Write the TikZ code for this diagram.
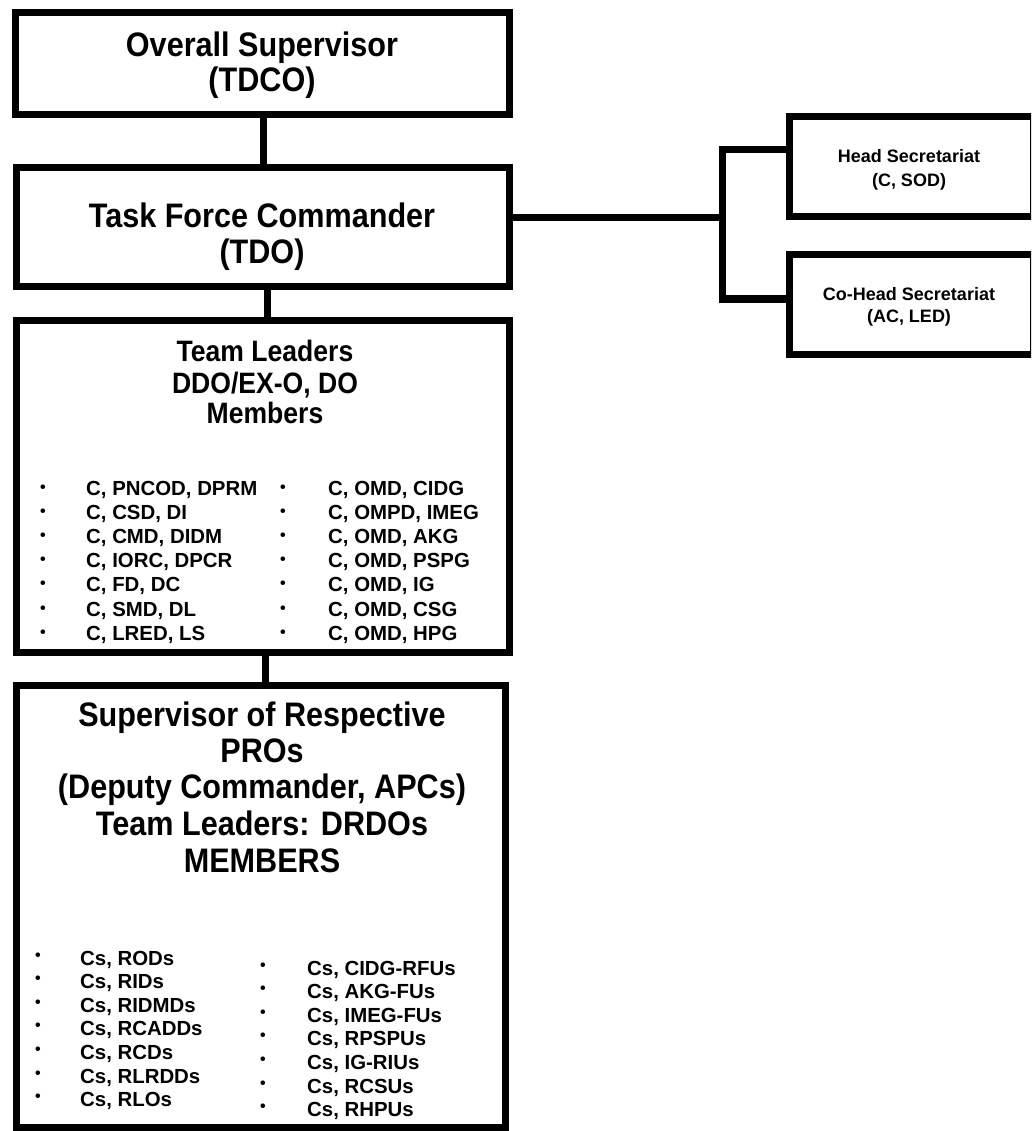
\documentclass[tikz,border=0pt]{standalone}
\usepackage{fontspec}
\setmainfont{Liberation Sans}
\newfontfamily\ttlfont{Liberation Sans}[FakeStretch=0.9]
\begin{document}
\begin{tikzpicture}[x=1pt,y=-1pt,
  box/.style={draw, line width=7pt, rectangle, inner sep=0pt, line join=miter},
  conn/.style={line width=7pt, line join=miter},
  tA/.style={anchor=base, inner sep=0pt, font=\ttlfont\bfseries\fontsize{34}{34}\selectfont},
  tB/.style={anchor=base, inner sep=0pt, font=\ttlfont\bfseries\fontsize{29.5}{29.5}\selectfont},
  tS/.style={anchor=base, inner sep=0pt, font=\bfseries\fontsize{18}{18}\selectfont},
  li/.style={anchor=base west, inner sep=0pt, font=\bfseries\fontsize{20.4}{20.4}\selectfont},
  bul/.style={anchor=base, inner sep=0pt, font=\bfseries\fontsize{16}{16}\selectfont}]
\useasboundingbox (0,0) rectangle (1031,1131);
\clip (0,0) rectangle (1031,1131);
\fill[white] (0,0) rectangle (1031,1131);

% boxes
\node[box, minimum width=494pt, minimum height=102pt] (b1) at (262,64) {};
\node[box, minimum width=493pt, minimum height=119pt] (b2) at (262.5,227.5) {};
\node[box, minimum width=493pt, minimum height=332pt] (b3) at (262.5,486) {};
\node[box, minimum width=489pt, minimum height=442pt] (b4) at (260.5,906) {};
\node[box, minimum width=244pt, minimum height=100pt] (hs) at (911,167) {};
\node[box, minimum width=244pt, minimum height=99pt] (chs) at (911,304.5) {};

% connectors
\coordinate (jm) at (722,218);
\coordinate (jt) at (722,150);
\coordinate (jb) at (722,299);
\draw[conn] (b1.south -| 263,0) -- (b2.north -| 263,0);
\draw[conn] (b2.south -| 267,0) -- (b3.north -| 267,0);
\draw[conn] (b3.south -| 265,0) -- (b4.north -| 265,0);
\draw[conn] (b2.east |- jm) -- (jm);
\draw[conn] (hs.west |- jt) -- (jt) -- (jb) -- (chs.west |- jb);

% titles
\node[tA] (t1a) at (262,57) {Overall Supervisor};
\node[tA] (t1b) at (262,92) {(TDCO)};
\node[tA] (t2a) at (262,228) {Task Force Commander};
\node[tA] (t2b) at (262,264) {(TDO)};
\node[tB] (t3a) at (265,361) {Team Leaders};
\node[tB] (t3b) at (265,393) {DDO/EX-O, DO};
\node[tB] (t3c) at (265,423) {Members};
\node[tA] (t4a) at (262,726) {Supervisor of Respective};
\node[tA] (t4b) at (262,762) {PROs};
\node[tA] (t4c) at (262,798) {(Deputy Commander, APCs)};
\node[tA] (t4d) at (262,835) {Team Leaders: DRDOs};
\node[tA] (t4e) at (262,872) {MEMBERS};
\node[tS] (hsa) at (909,163) {Head Secretariat};
\node[tS] (hsb) at (909,187) {(C, SOD)};
\node[tS] (chsa) at (909,300) {Co-Head Secretariat};
\node[tS] (chsb) at (909,322) {(AC, LED)};

% box 3 lists
\foreach \t [count=\i] in {{C, PNCOD, DPRM},{C, CSD, DI},{C, CMD, DIDM},{C, IORC, DPCR},{C, FD, DC},{C, SMD, DL},{C, LRED, LS}} {
  \node[li] (pa\i) at (86,{495+24.2*(\i-1)}) {\t};
  \node[bul] (pab\i) at (43,{495+24.2*(\i-1)-3}) {\textbullet};
}
\foreach \t [count=\i] in {{C, OMD, CIDG},{C, OMPD, IMEG},{C, OMD, AKG},{C, OMD, PSPG},{C, OMD, IG},{C, OMD, CSG},{C, OMD, HPG}} {
  \node[li] (pb\i) at (328,{495+24.2*(\i-1)}) {\t};
  \node[bul] (pbb\i) at (283,{495+24.2*(\i-1)-3}) {\textbullet};
}
% box 4 lists
\foreach \t [count=\i] in {{Cs, RODs},{Cs, RIDs},{Cs, RIDMDs},{Cs, RCADDs},{Cs, RCDs},{Cs, RLRDDs},{Cs, RLOs}} {
  \node[li] (qa\i) at (80,{965+23.6*(\i-1)}) {\t};
  \node[bul] (qab\i) at (38,{965+23.6*(\i-1)-5}) {\textbullet};
}
\foreach \t [count=\i] in {{Cs, CIDG-RFUs},{Cs, AKG-FUs},{Cs, IMEG-FUs},{Cs, RPSPUs},{Cs, IG-RIUs},{Cs, RCSUs},{Cs, RHPUs}} {
  \node[li] (qb\i) at (307,{975+23.6*(\i-1)}) {\t};
  \node[bul] (qbb\i) at (263,{975+23.6*(\i-1)-5}) {\textbullet};
}
\end{tikzpicture}
\end{document}
